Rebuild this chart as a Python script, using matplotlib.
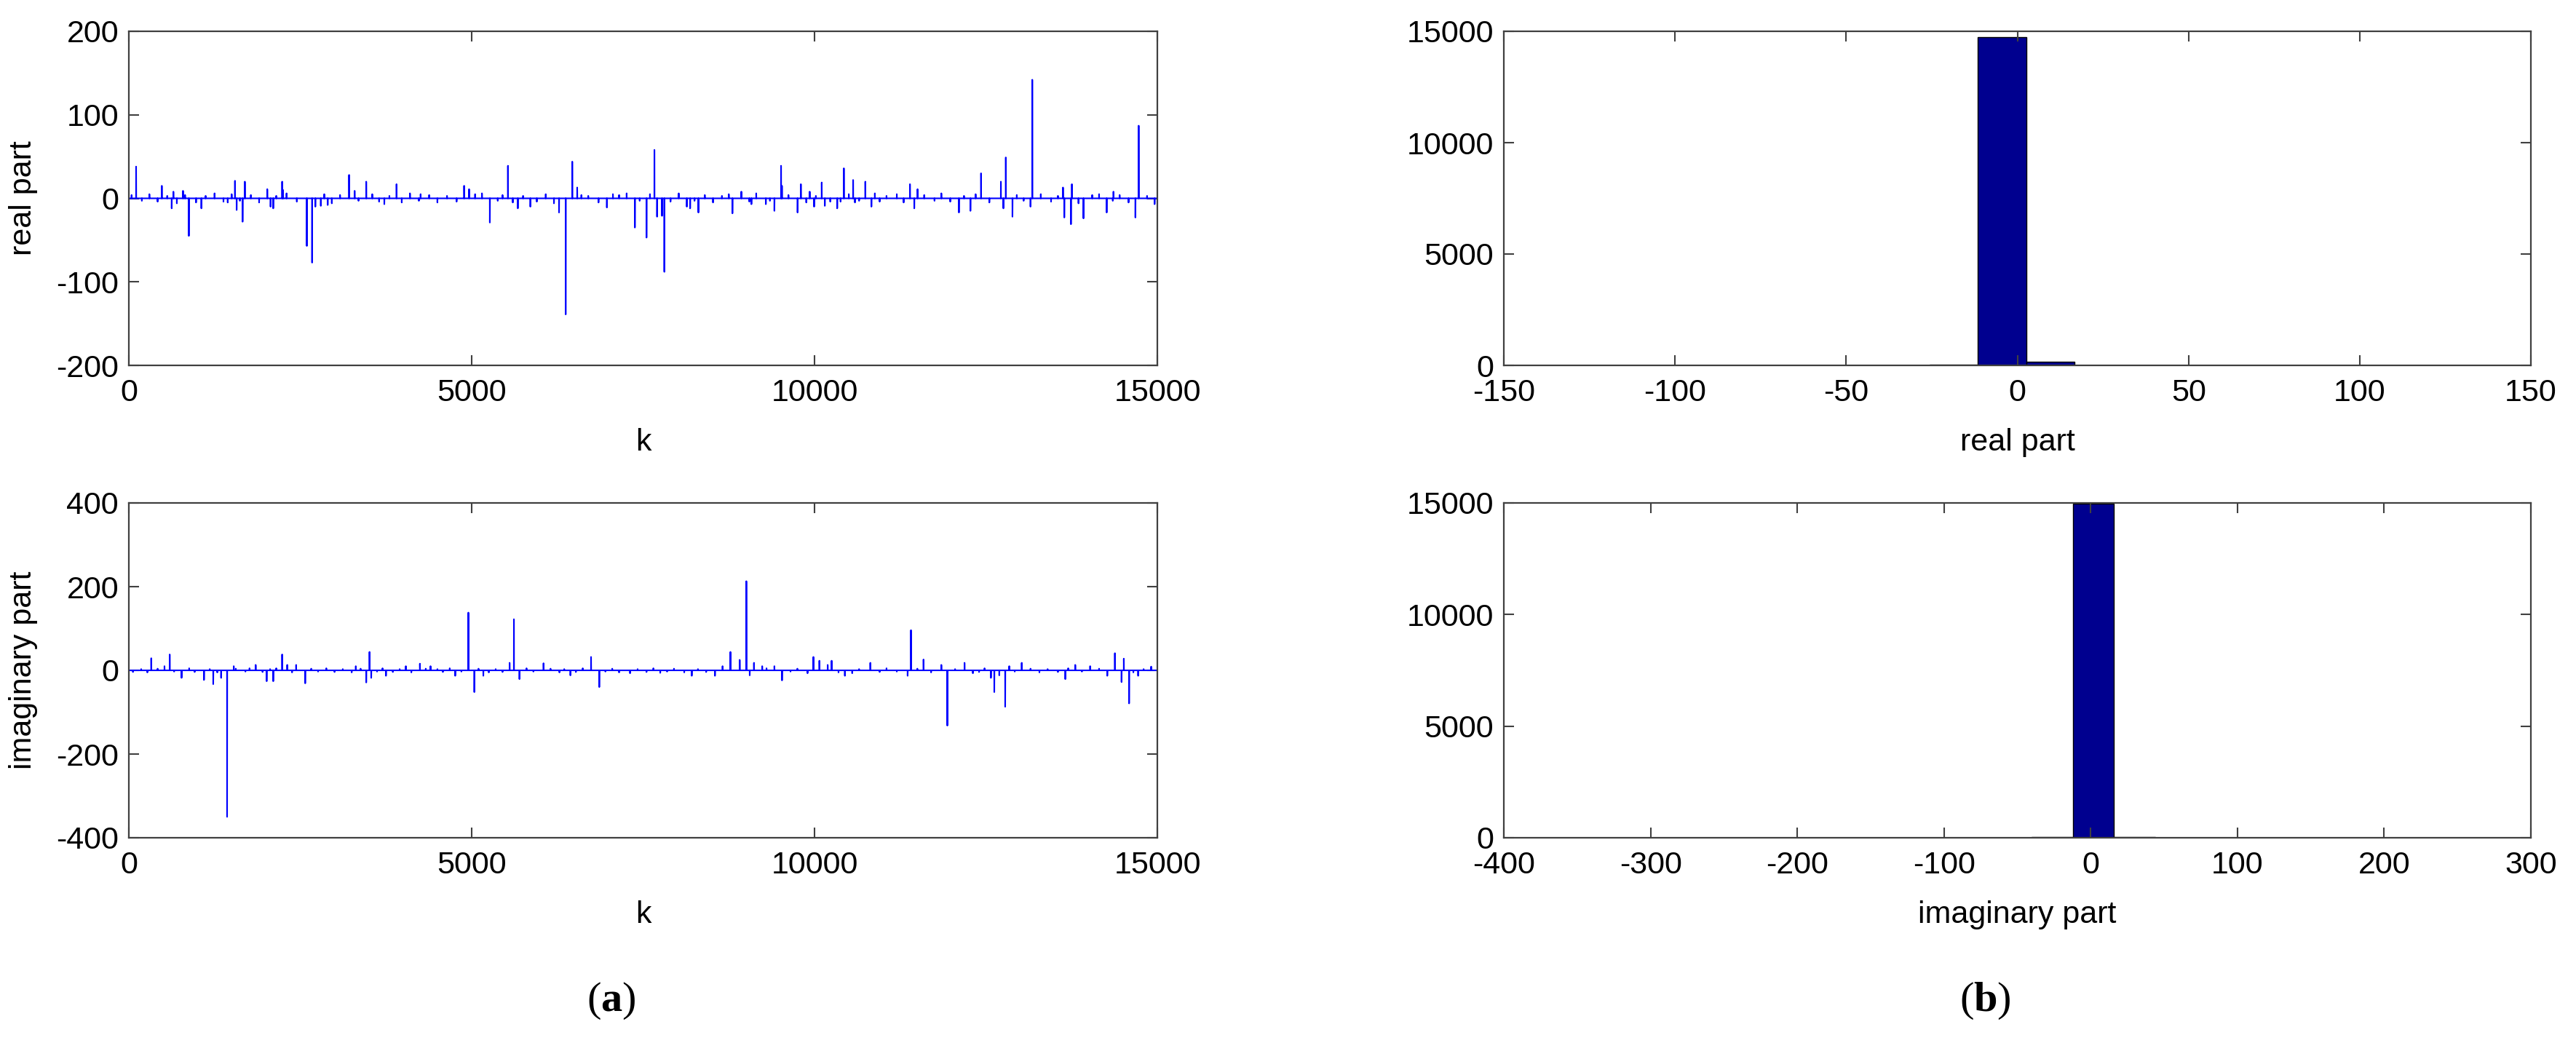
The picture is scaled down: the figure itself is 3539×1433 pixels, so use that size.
import numpy as np
import matplotlib.pyplot as plt

plt.rcParams['font.family'] = ['Liberation Sans', 'DejaVu Sans']
plt.rcParams['axes.unicode_minus'] = False
plt.rcParams['mathtext.fontset'] = 'custom'
plt.rcParams['mathtext.rm'] = 'Liberation Serif'
plt.rcParams['mathtext.bf'] = 'Liberation Serif:bold'

n_samples = 15000

# (k, value) spikes
real_spikes = [(106, 38), (481, 15), (625, -12), (650, 8), (790, 9), (875, -45), (1058, -12),
               (1442, -5), (1548, 21), (1572, -14), (1659, -28), (1692, 20), (2019, 11), (2067, -10),
               (2106, -12), (2236, 20), (2250, 10), (2596, -57), (2673, -77), (2720, -10), (2800, -9),
               (2900, -8), (3212, 28), (3293, 9), (3462, 20), (3726, -7), (3904, 17), (4255, 5),
               (4890, 15), (4962, 11), (5265, -29), (5529, 39), (5673, -12), (5856, -10), (6274, -17),
               (6371, -139), (6467, 44), (6539, 13), (6972, -11), (7060, 5), (7260, 6), (7380, -35),
               (7550, -47), (7665, 58), (7704, -22), (7776, -21), (7810, -88), (8138, -10), (8186, -12),
               (8307, -17), (8803, -18), (8933, 8), (9080, -7), (9290, -7), (9415, -15), (9512, 39),
               (9525, 15), (9753, -17), (9801, 17), (9930, 8), (9994, -10), (10105, 19), (10150, -9),
               (10230, -4), (10331, -12), (10428, 36), (10563, 22), (10590, -5), (10741, 20),
               (10830, -10), (11392, 17), (11455, -12), (11503, 11), (12106, -17), (12274, -15),
               (12429, 30), (12718, 20), (12755, -12), (12790, 49), (12887, -22), (13150, -10),
               (13176, 142), (13624, 13), (13643, -23), (13740, -31), (13754, 17), (13923, -24),
               (14261, -17), (14360, 8), (14680, -23), (14728, 87), (14960, -7)]

# small ripples along the zero line of the real part
real_ripple = [(40, 4), (190, -3), (300, 5), (420, -4), (560, 3), (700, -6), (820, 4), (980, -5),
               (1120, 3), (1250, 6), (1380, -4), (1500, 5), (1620, -3), (1780, 4), (1900, -5),
               (2150, 3), (2300, 6), (2450, -4), (2850, 5), (2960, -6), (3080, 4), (3350, -3),
               (3550, 5), (3650, -4), (3800, 3), (3980, -5), (4100, 6), (4230, -3), (4380, 4),
               (4500, -5), (4640, 3), (4780, -4), (5050, 5), (5150, 6), (5380, -3), (5450, 4),
               (5600, -5), (5750, 3), (5950, -4), (6080, 5), (6200, -6), (6600, 4), (6700, 3),
               (6850, -5), (7150, 4), (7450, -3), (7600, 5), (7900, -4), (8020, 6), (8250, -3),
               (8400, 4), (8520, -5), (8650, 3), (8750, 5), (9050, -4), (9150, 6), (9350, -3),
               (9620, 4), (9880, -5), (10020, 3), (10380, -4), (10500, 5), (10650, -3), (10880, 6),
               (10950, -4), (11050, 3), (11200, 5), (11300, -5), (11600, 4), (11750, -3),
               (11850, 6), (11980, -4), (12180, 3), (12350, 5), (12550, -5), (12950, 4),
               (13050, -3), (13300, 5), (13450, -4), (13550, 3), (13850, -6), (14050, 4),
               (14150, 5), (14350, -3), (14450, 4), (14580, -5), (14850, 3)]

# (k, value) spikes
imag_spikes = [(327, 29), (520, 10), (596, 38), (769, -18), (1096, -23), (1231, -33), (1346, -18),
               (1433, -350), (1530, 10), (1850, 13), (2010, -26), (2106, -26), (2150, 5), (2236, 38),
               (2310, 13), (2440, 13), (2572, -31), (3310, 10), (3462, -29), (3510, 44), (3535, -18),
               (3750, -13), (4040, 10), (4245, 16), (4400, 10), (4760, -13), (4952, 138), (5039, -52),
               (5170, -13), (5553, 18), (5616, 122), (5697, -21), (6048, 17), (6440, -12),
               (6741, 32), (6861, -40), (7310, -7), (7750, -6), (8210, -13), (8548, -13), (8659, 10),
               (8774, 44), (8909, 25), (9006, 213), (9055, -12), (9117, 18), (9237, 10), (9415, 10),
               (9526, -24), (9898, -7), (9984, 32), (10071, 23), (10192, 13), (10250, 23),
               (10443, -13), (10550, -7), (10814, 18), (11358, -13), (11407, 96), (11590, 26),
               (11850, 13), (11937, -132), (12188, 18), (12310, -7), (12573, -18), (12622, -52),
               (12695, -12), (12781, -87), (12840, 10), (13022, 18), (13658, -21), (13803, 13),
               (14020, 10), (14270, -13), (14381, 41), (14478, -28), (14511, 28), (14588, -79),
               (14720, -13), (14910, 9)]

imag_ripple = [(60, -4), (180, 3), (270, -5), (420, 4), (660, -3), (880, 5), (960, -4), (1180, 3),
               (1290, -5), (1560, 4), (1700, -3), (1760, 5), (1950, -4), (2060, 3), (2380, -5),
               (2660, 4), (2760, -3), (2880, 5), (3000, -4), (3120, 3), (3250, -5), (3380, 4),
               (3620, -3), (3700, 5), (3850, -4), (3950, 3), (4120, -5), (4330, 4), (4500, 3),
               (4580, -4), (4680, 5), (4850, -3), (5100, 4), (5250, -5), (5350, 3), (5450, -4),
               (5800, 5), (5900, -3), (6150, 4), (6280, -5), (6350, 3), (6520, -4), (6620, 5),
               (6950, -3), (7050, 4), (7150, -5), (7420, 3), (7550, -4), (7650, 5), (7850, -3),
               (7950, 4), (8100, -5), (8300, 3), (8420, -4), (9300, 5), (9650, -3), (9750, 4),
               (10350, -5), (10650, 3), (10950, -4), (11050, 5), (11200, -3), (11500, 4),
               (11700, -5), (12050, 3), (12400, -4), (12480, 5), (12920, -3), (13150, 4),
               (13280, -5), (13400, 3), (13550, -4), (13700, 5), (13900, -3), (14150, 4),
               (14650, -5), (14800, 3)]

# histogram of the real part: 20 bins over the data range
real_lo, real_hi = -138.7, 144.0
real_counts = [1, 0, 0, 1, 1, 2, 2, 0, 25, 14745, 178, 6, 3, 1, 0, 0, 1, 0, 0, 2]

# histogram of the imaginary part: 20 bins over the data range
imag_lo, imag_hi = -350.0, 213.0
imag_counts = [1, 0, 0, 0, 0, 0, 0, 1, 0, 2, 4, 30, 14955, 40, 8, 4, 2, 1, 0, 2]


def build_trace(spikes, ripple):
    y = np.zeros(n_samples)
    for k, v in ripple + spikes:
        y[k - 1] = v
    return np.arange(1, n_samples + 1), y


def style_axes(ax):
    for s in ax.spines.values():
        s.set_color('#404040')
        s.set_linewidth(1.6)
    ax.tick_params(direction='in', top=True, right=True, length=10, width=1.5,
                   color='#404040', labelsize=31)
    ax.tick_params(axis='x', pad=13)
    ax.tick_params(axis='y', pad=10)


fig = plt.figure(figsize=(35.39, 14.33), dpi=100)
W, H = 3539, 1433
ax_re = fig.add_axes([177 / W, 1 - 502 / H, 1413 / W, 459 / H])
ax_im = fig.add_axes([177 / W, 1 - 1151 / H, 1413 / W, 460 / H])
ax_hre = fig.add_axes([2066 / W, 1 - 502 / H, 1411 / W, 459 / H])
ax_him = fig.add_axes([2066 / W, 1 - 1151 / H, 1411 / W, 460 / H])

# time series
k, y = build_trace(real_spikes, real_ripple)
ax_re.plot(k, y, color='#0000FF', linewidth=1.5)
ax_re.set_xlim(0, 15000)
ax_re.set_ylim(-200, 200)
ax_re.set_yticks([-200, -100, 0, 100, 200])
ax_re.set_ylabel('real part', fontsize=31, labelpad=18)

k, y = build_trace(imag_spikes, imag_ripple)
ax_im.plot(k, y, color='#0000FF', linewidth=1.5)
ax_im.set_xlim(0, 15000)
ax_im.set_ylim(-400, 400)
ax_im.set_yticks([-400, -200, 0, 200, 400])
ax_im.set_ylabel('imaginary part', fontsize=31, labelpad=18)

for ax in (ax_re, ax_im):
    ax.set_xticks([0, 5000, 10000, 15000])
    ax.set_xlabel('k', fontsize=31, labelpad=20)

# histograms
edges = np.linspace(real_lo, real_hi, len(real_counts) + 1)
ax_hre.bar(edges[:-1], real_counts, width=np.diff(edges), align='edge',
           color='#00008F', edgecolor='#000000', linewidth=1.0)
ax_hre.set_xlim(-150, 150)
ax_hre.set_xticks([-150, -100, -50, 0, 50, 100, 150])
ax_hre.set_xlabel('real part', fontsize=31, labelpad=20)

edges = np.linspace(imag_lo, imag_hi, len(imag_counts) + 1)
ax_him.bar(edges[:-1], imag_counts, width=np.diff(edges), align='edge',
           color='#00008F', edgecolor='#000000', linewidth=1.0)
ax_him.set_xlim(-400, 300)
ax_him.set_xticks([-400, -300, -200, -100, 0, 100, 200, 300])
ax_him.set_xlabel('imaginary part', fontsize=31, labelpad=20)

for ax in (ax_hre, ax_him):
    ax.set_ylim(0, 15000)
    ax.set_yticks([0, 5000, 10000, 15000])

for ax in (ax_re, ax_im, ax_hre, ax_him):
    style_axes(ax)

fig.text(840 / W, 1 - 1375 / H, r'($\mathbf{a}$)', family='Liberation Serif',
         fontsize=42, ha='center', va='center')
fig.text(2727 / W, 1 - 1375 / H, r'($\mathbf{b}$)', family='Liberation Serif',
         fontsize=42, ha='center', va='center')

fig.savefig('out.png', dpi=100)
